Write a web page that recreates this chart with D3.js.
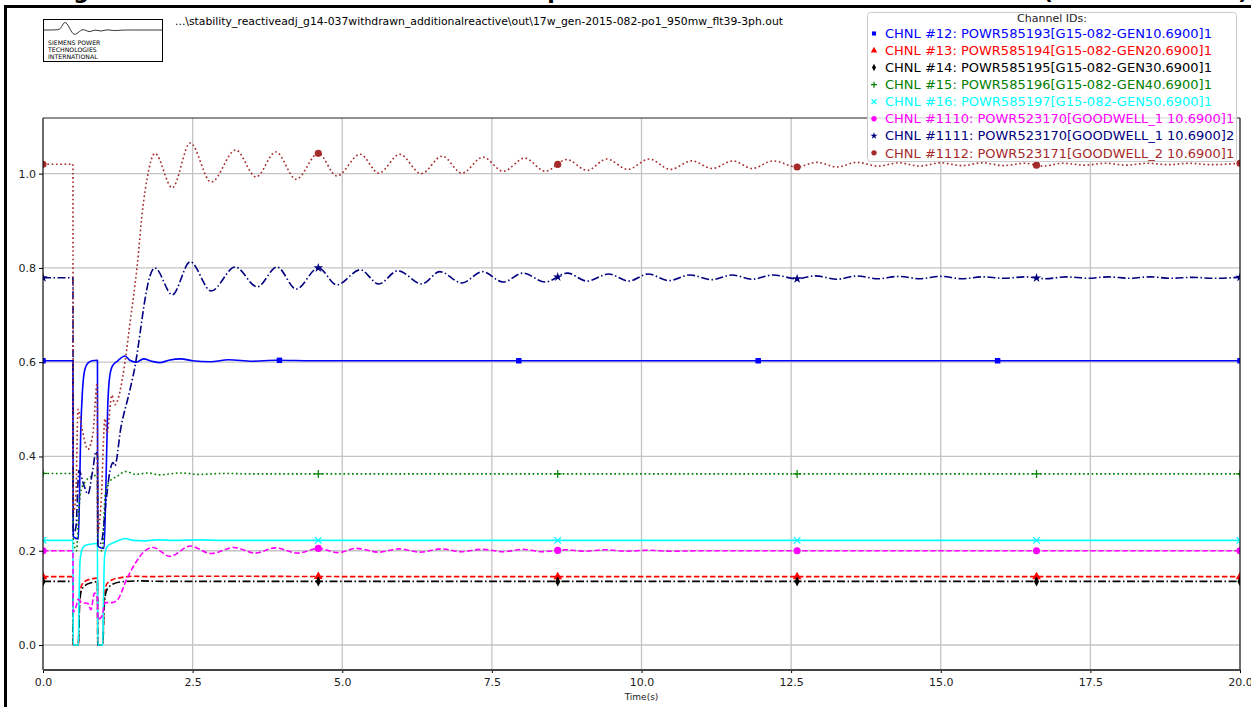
<!DOCTYPE html>
<html>
<head>
<meta charset="utf-8">
<script src="https://cdn.jsdelivr.net/npm/d3@7"></script>
<style>
  body { margin: 0; background: #fff; }
  svg { display: block; font-family: "DejaVu Sans", sans-serif; }
</style>
</head>
<body>
<svg id="chart" width="1251" height="707"></svg>
<script>
// ---- data ----
const filePath = "...\\stability_reactiveadj_g14-037withdrawn_additionalreactive\\out\\17w_gen-2015-082-po1_950mw_flt39-3ph.out";
const legendTitle = "Channel IDs:";
const logoLines = ["SIEMENS POWER", "TECHNOLOGIES", "INTERNATIONAL"];
const xLabel = "Time(s)";

const channelLabels = [
  "CHNL #12: POWR585193[G15-082-GEN10.6900]1",
  "CHNL #13: POWR585194[G15-082-GEN20.6900]1",
  "CHNL #14: POWR585195[G15-082-GEN30.6900]1",
  "CHNL #15: POWR585196[G15-082-GEN40.6900]1",
  "CHNL #16: POWR585197[G15-082-GEN50.6900]1",
  "CHNL #1110: POWR523170[GOODWELL_1 10.6900]1",
  "CHNL #1111: POWR523170[GOODWELL_1 10.6900]2",
  "CHNL #1112: POWR523171[GOODWELL_2 10.6900]1"
];

const xTicks = [0, 2.5, 5, 7.5, 10, 12.5, 15, 17.5, 20];
const yTicks = [0, 0.2, 0.4, 0.6, 0.8, 1.0];

const markerTimes = [0, 4.6, 8.6, 12.6, 16.6, 20];
const markerTimesCh12 = [0, 3.95, 7.95, 11.95, 15.95, 20];

// [time (s), value]
const ch12 = [[0,0.603],[0.5,0.603],[0.505,0.23],[0.59,0.225],[0.61,0.32],[0.63,0.45],[0.66,0.54],[0.7,0.585],[0.75,0.598],[0.82,0.603],[0.91,0.604],[0.915,0.21],[1.02,0.205],[1.05,0.33],[1.08,0.5],[1.11,0.565],[1.16,0.592],[1.25,0.603],[1.37,0.613],[1.45,0.604],[1.56,0.6],[1.68,0.607],[1.82,0.602],[1.95,0.599],[2.1,0.604],[2.3,0.607],[2.5,0.603],[2.8,0.601],[3.1,0.605],[3.5,0.602],[3.9,0.604],[4.5,0.603],[6,0.603],[8,0.603],[12,0.603],[16,0.603],[20,0.603]];

const ch13 = [[0,0.145],[0.5,0.145],[0.505,0],[0.59,0],[0.61,0.09],[0.64,0.125],[0.7,0.135],[0.8,0.14],[0.91,0.142],[0.915,0],[1.0,0],[1.02,0.09],[1.06,0.128],[1.15,0.138],[1.3,0.143],[1.5,0.146],[1.8,0.145],[2.2,0.146],[6,0.145],[20,0.145]];

const ch14 = [[0,0.135],[0.5,0.135],[0.505,0],[0.59,0],[0.61,0.08],[0.64,0.115],[0.7,0.126],[0.8,0.132],[0.91,0.134],[0.915,0],[1.0,0],[1.02,0.08],[1.06,0.115],[1.15,0.128],[1.3,0.134],[1.6,0.136],[2.0,0.135],[6,0.135],[20,0.135]];

const ch15 = [[0,0.364],[0.5,0.364],[0.505,0.22],[0.56,0.2],[0.6,0.29],[0.64,0.33],[0.7,0.345],[0.8,0.357],[0.91,0.36],[0.915,0.2],[0.99,0.2],[1.04,0.32],[1.1,0.345],[1.24,0.358],[1.38,0.368],[1.55,0.362],[1.75,0.365],[1.95,0.361],[2.3,0.365],[2.6,0.362],[3.0,0.364],[3.5,0.363],[8,0.363],[20,0.363]];

const ch16 = [[0,0.222],[0.5,0.222],[0.505,0],[0.59,0],[0.6,0.08],[0.62,0.18],[0.66,0.205],[0.72,0.212],[0.85,0.215],[0.91,0.216],[0.915,0],[1.0,0],[1.01,0.09],[1.03,0.19],[1.08,0.21],[1.2,0.218],[1.38,0.226],[1.5,0.222],[1.7,0.221],[1.9,0.223],[2.2,0.222],[2.6,0.223],[3,0.222],[8,0.222],[20,0.222]];

const ch1110 = [[0,0.2],[0.5,0.2],[0.505,0.07],[0.56,0.085],[0.585,0.097],[0.65,0.09],[0.75,0.088],[0.8,0.075],[0.86,0.11],[0.91,0.1],[0.915,0.055],[0.98,0.06],[1.04,0.09],[1.15,0.09],[1.24,0.095],[1.4,0.14],[1.55,0.175],[1.68,0.197],[1.84,0.207],[2.12,0.188],[2.46,0.21],[2.81,0.194],[3.19,0.207],[3.54,0.195],[3.88,0.206],[4.26,0.195],[4.6,0.205],[4.93,0.196],[5.23,0.205],[5.61,0.197],[5.95,0.204],[6.3,0.197],[6.65,0.204],[6.98,0.198],[7.33,0.203],[7.69,0.198],[8.02,0.203],[8.34,0.198],[8.72,0.202],[9.05,0.199],[9.4,0.202],[9.75,0.199],[10.1,0.201],[10.5,0.199],[11,0.2],[14,0.2],[20,0.2]];

const ch1111 = [[0,0.779],[0.5,0.779],[0.505,0.235],[0.55,0.25],[0.6,0.37],[0.68,0.34],[0.75,0.32],[0.83,0.37],[0.885,0.41],[0.91,0.4],[0.915,0.21],[0.98,0.22],[1.05,0.3],[1.12,0.37],[1.17,0.387],[1.2,0.38],[1.3,0.46],[1.45,0.54],[1.55,0.6],[1.62,0.66],[1.7,0.73],[1.78,0.78],[1.87,0.80],[2.16,0.743],[2.46,0.813],[2.81,0.751],[3.21,0.802],[3.58,0.76],[3.91,0.802],[4.23,0.755],[4.6,0.80],[4.91,0.764],[5.3,0.796],[5.61,0.766],[5.93,0.794],[6.33,0.766],[6.63,0.792],[7.0,0.768],[7.34,0.792],[7.69,0.77],[8.02,0.789],[8.39,0.77],[8.76,0.789],[9.09,0.772],[9.45,0.787],[9.79,0.772],[10.11,0.787],[10.46,0.773],[10.81,0.785],[11.18,0.775],[11.51,0.785],[11.85,0.776],[12.2,0.785],[12.6,0.777],[12.9,0.783],[13.27,0.776],[13.6,0.783],[13.95,0.777],[14.3,0.782],[14.65,0.777],[15.0,0.782],[15.35,0.777],[15.7,0.781],[16.05,0.778],[16.4,0.781],[16.75,0.777],[17.1,0.781],[17.45,0.778],[17.8,0.781],[18.15,0.778],[18.5,0.781],[18.85,0.778],[19.2,0.78],[19.55,0.778],[20,0.78]];

const ch1112 = [[0,1.02],[0.5,1.02],[0.505,0.28],[0.55,0.32],[0.585,0.5],[0.65,0.46],[0.75,0.415],[0.835,0.45],[0.905,0.555],[0.915,0.24],[0.97,0.3],[1.035,0.48],[1.07,0.45],[1.15,0.53],[1.2,0.51],[1.37,0.6],[1.45,0.68],[1.57,0.8],[1.67,0.93],[1.74,0.99],[1.87,1.043],[2.16,0.97],[2.46,1.065],[2.81,0.982],[3.22,1.05],[3.56,0.993],[3.89,1.046],[4.23,0.988],[4.6,1.043],[4.91,0.995],[5.3,1.041],[5.61,1.001],[5.96,1.041],[6.32,1.0],[6.67,1.037],[7.0,1.001],[7.35,1.035],[7.69,1.005],[8.05,1.033],[8.39,1.005],[8.75,1.03],[9.09,1.007],[9.42,1.031],[9.77,1.009],[10.13,1.031],[10.48,1.009],[10.84,1.027],[11.18,1.011],[11.53,1.027],[11.85,1.011],[12.2,1.027],[12.6,1.014],[12.93,1.024],[13.27,1.014],[13.6,1.024],[13.95,1.016],[14.3,1.023],[14.65,1.016],[15.0,1.023],[15.35,1.017],[15.7,1.023],[16.05,1.017],[16.4,1.022],[16.7,1.016],[17.05,1.022],[17.4,1.018],[17.75,1.022],[18.1,1.018],[18.45,1.022],[18.8,1.019],[19.15,1.022],[19.5,1.019],[20,1.022]];

// ---- styling ----
const series = [
  { data: ch12,   color: "#0000ff", dash: null,              marker: "square",   times: markerTimesCh12 },
  { data: ch13,   color: "#ff0000", dash: "5.5,2.5",         marker: "triangle", times: markerTimes },
  { data: ch14,   color: "#000000", dash: "8,2.5,1.5,2.5",   marker: "diamond",  times: markerTimes },
  { data: ch15,   color: "#008000", dash: "1.7,2.6",         marker: "plus",     times: markerTimes },
  { data: ch16,   color: "#00ffff", dash: null,              marker: "x",        times: markerTimes },
  { data: ch1110, color: "#ff00ff", dash: "5.5,2.5",         marker: "circle",   times: markerTimes },
  { data: ch1111, color: "#000080", dash: "8,2.5,1.5,2.5",   marker: "star",     times: markerTimes },
  { data: ch1112, color: "#a52a2a", dash: "1.7,2.6",         marker: "circle",   times: markerTimes }
];

const plot = { left: 43, right: 1240, top: 118, bottom: 670 };

const svg = d3.select("#chart");

const x = d3.scaleLinear().domain([0, 20]).range([plot.left, plot.right]);
const y = d3.scaleLinear().domain([-0.053, 1.118]).range([plot.bottom, plot.top]);

function valueAt(data, t) {
  const i = d3.bisector(d => d[0]).left(data, t);
  if (i <= 0) return data[0][1];
  if (i >= data.length) return data[data.length - 1][1];
  const a = data[i - 1], b = data[i];
  return a[1] + (b[1] - a[1]) * (t - a[0]) / (b[0] - a[0]);
}

function drawMarker(g, type, color, s) {
  s = s || 1;
  if (type === "plus") {
    g.append("path").attr("d", `M${-4*s},0H${4*s}M0,${-4*s}V${4*s}`).attr("stroke", color).attr("stroke-width", 1.2).attr("fill", "none");
  } else if (type === "x") {
    g.append("path").attr("d", `M${-3.3*s},${-3.3*s}L${3.3*s},${3.3*s}M${-3.3*s},${3.3*s}L${3.3*s},${-3.3*s}`).attr("stroke", color).attr("stroke-width", 1.2).attr("fill", "none");
  } else if (type === "diamond") {
    g.append("path").attr("d", `M0,${-5*s}L${2.6*s},0L0,${5*s}L${-2.6*s},0Z`).attr("fill", color);
  } else {
    const sym = { square: d3.symbolSquare, triangle: d3.symbolTriangle, circle: d3.symbolCircle, star: d3.symbolStar }[type];
    const size = { square: 30, triangle: 32, circle: 40, star: 28 }[type];
    g.append("path").attr("d", d3.symbol(sym, size * s * s)()).attr("fill", color);
  }
}

// ---- page frame and header ----
svg.append("rect").attr("x", 4).attr("y", 5).attr("width", 1247).attr("height", 3).attr("fill", "#000");
svg.append("rect").attr("x", 4).attr("y", 5).attr("width", 3).attr("height", 702).attr("fill", "#000");

// title sits above the page edge, only the descenders of its glyphs show
[["g", 81], ["p", 555], ["(", 1048], [")", 1243]].forEach(([s, px]) => {
  svg.append("text").attr("x", px).attr("y", -1).attr("text-anchor", "middle")
    .attr("font-size", 22).attr("font-weight", "bold").attr("fill", "#000").text(s);
});

// logo
const logo = svg.append("g").attr("transform", "translate(43,19)");
logo.append("rect").attr("x", 0.5).attr("y", 0.5).attr("width", 119).attr("height", 42)
  .attr("fill", "#fff").attr("stroke", "#000").attr("stroke-width", 1);
logo.append("path")
  .attr("d", d3.line().curve(d3.curveBasis)([[1,11],[14,11],[18,10],[21,2],[25,5],[30,17],[35,14],[40,9],[46,14],[52,10],[58,13],[64,10],[70,12],[78,11],[90,11],[119,11]]))
  .attr("fill", "none").attr("stroke", "#000").attr("stroke-width", 0.8);
logo.selectAll("text.logo").data(logoLines).join("text")
  .attr("x", 5).attr("y", (d, i) => 26 + i * 7.2)
  .attr("font-size", 6.2).attr("fill", "#000").text(d => d);

// file path
svg.append("text").attr("x", 175).attr("y", 25)
  .attr("font-size", 10.5).attr("fill", "#000")
  .attr("textLength", 608).attr("lengthAdjust", "spacingAndGlyphs")
  .text(filePath);

// ---- axes area ----
svg.append("defs").append("clipPath").attr("id", "clip")
  .append("rect").attr("x", plot.left).attr("y", plot.top)
  .attr("width", plot.right - plot.left).attr("height", plot.bottom - plot.top);

const grid = svg.append("g");
grid.selectAll("line.vx").data(xTicks).join("line")
  .attr("x1", d => x(d)).attr("x2", d => x(d)).attr("y1", plot.top).attr("y2", plot.bottom)
  .attr("stroke", "#c4c4c4").attr("stroke-width", 1.3);
grid.selectAll("line.hy").data(yTicks).join("line")
  .attr("x1", plot.left).attr("x2", plot.right).attr("y1", d => y(d)).attr("y2", d => y(d))
  .attr("stroke", "#c4c4c4").attr("stroke-width", 1.3);

// y axis
svg.append("g").attr("transform", `translate(${plot.left},0)`)
  .call(d3.axisLeft(y).tickValues(yTicks).tickFormat(d3.format(".1f")).tickSize(4).tickPadding(3))
  .call(g => g.select(".domain").remove())
  .call(g => g.selectAll("text").attr("font-size", 11).attr("font-family", "DejaVu Sans").attr("fill", "#222"));

// x axis
svg.append("g").attr("transform", `translate(0,${plot.bottom})`)
  .call(d3.axisBottom(x).tickValues(xTicks).tickFormat(d3.format(".1f")).tickSize(3).tickPadding(5))
  .call(g => g.select(".domain").remove())
  .call(g => g.selectAll("text").attr("font-size", 11).attr("font-family", "DejaVu Sans").attr("fill", "#222"));

svg.append("text").attr("x", (plot.left + plot.right) / 2).attr("y", 700)
  .attr("text-anchor", "middle").attr("font-size", 9).attr("fill", "#222").text(xLabel);

// series, drawn in channel order so the last channel lies on top
const line = d3.line().curve(d3.curveMonotoneX).x(d => x(d[0])).y(d => y(d[1]));
const body = svg.append("g").attr("clip-path", "url(#clip)");
series.forEach(s => {
  const g = body.append("g");
  g.append("path").datum(s.data).attr("d", line)
    .attr("fill", "none").attr("stroke", s.color).attr("stroke-width", 1.6)
    .attr("stroke-dasharray", s.dash).attr("stroke-linejoin", "round");
  s.times.forEach(t => {
    const m = g.append("g").attr("transform", `translate(${x(t)},${y(valueAt(s.data, t))})`);
    drawMarker(m, s.marker, s.color, 1);
  });
});

// spines
svg.append("line").attr("x1", plot.left).attr("x2", plot.left).attr("y1", plot.top).attr("y2", plot.bottom).attr("stroke", "#000").attr("stroke-width", 1);
svg.append("line").attr("x1", plot.right).attr("x2", plot.right).attr("y1", plot.top).attr("y2", plot.bottom).attr("stroke", "#000").attr("stroke-width", 1);
svg.append("line").attr("x1", plot.left).attr("x2", plot.right).attr("y1", plot.top).attr("y2", plot.top).attr("stroke", "#222").attr("stroke-width", 1);
svg.append("line").attr("x1", plot.left).attr("x2", plot.right).attr("y1", plot.bottom).attr("y2", plot.bottom).attr("stroke", "#444").attr("stroke-width", 2);

// ---- legend ----
const legend = svg.append("g");
legend.append("rect").attr("x", 867.5).attr("y", 12.5).attr("width", 369).attr("height", 149).attr("rx", 3)
  .attr("fill", "#fff").attr("fill-opacity", 0.8).attr("stroke", "#cccccc");
legend.append("text").attr("x", 1052).attr("y", 22).attr("text-anchor", "middle")
  .attr("font-size", 11).attr("fill", "#222").text(legendTitle);
channelLabels.forEach((label, i) => {
  const cy = 33.5 + i * 17.05;
  const m = legend.append("g").attr("transform", `translate(874,${cy})`);
  drawMarker(m, series[i].marker, series[i].color, 0.75);
  legend.append("text").attr("x", 885).attr("y", cy).attr("dy", "0.36em")
    .attr("font-size", 13).attr("fill", series[i].color).text(label);
});
</script>
</body>
</html>
